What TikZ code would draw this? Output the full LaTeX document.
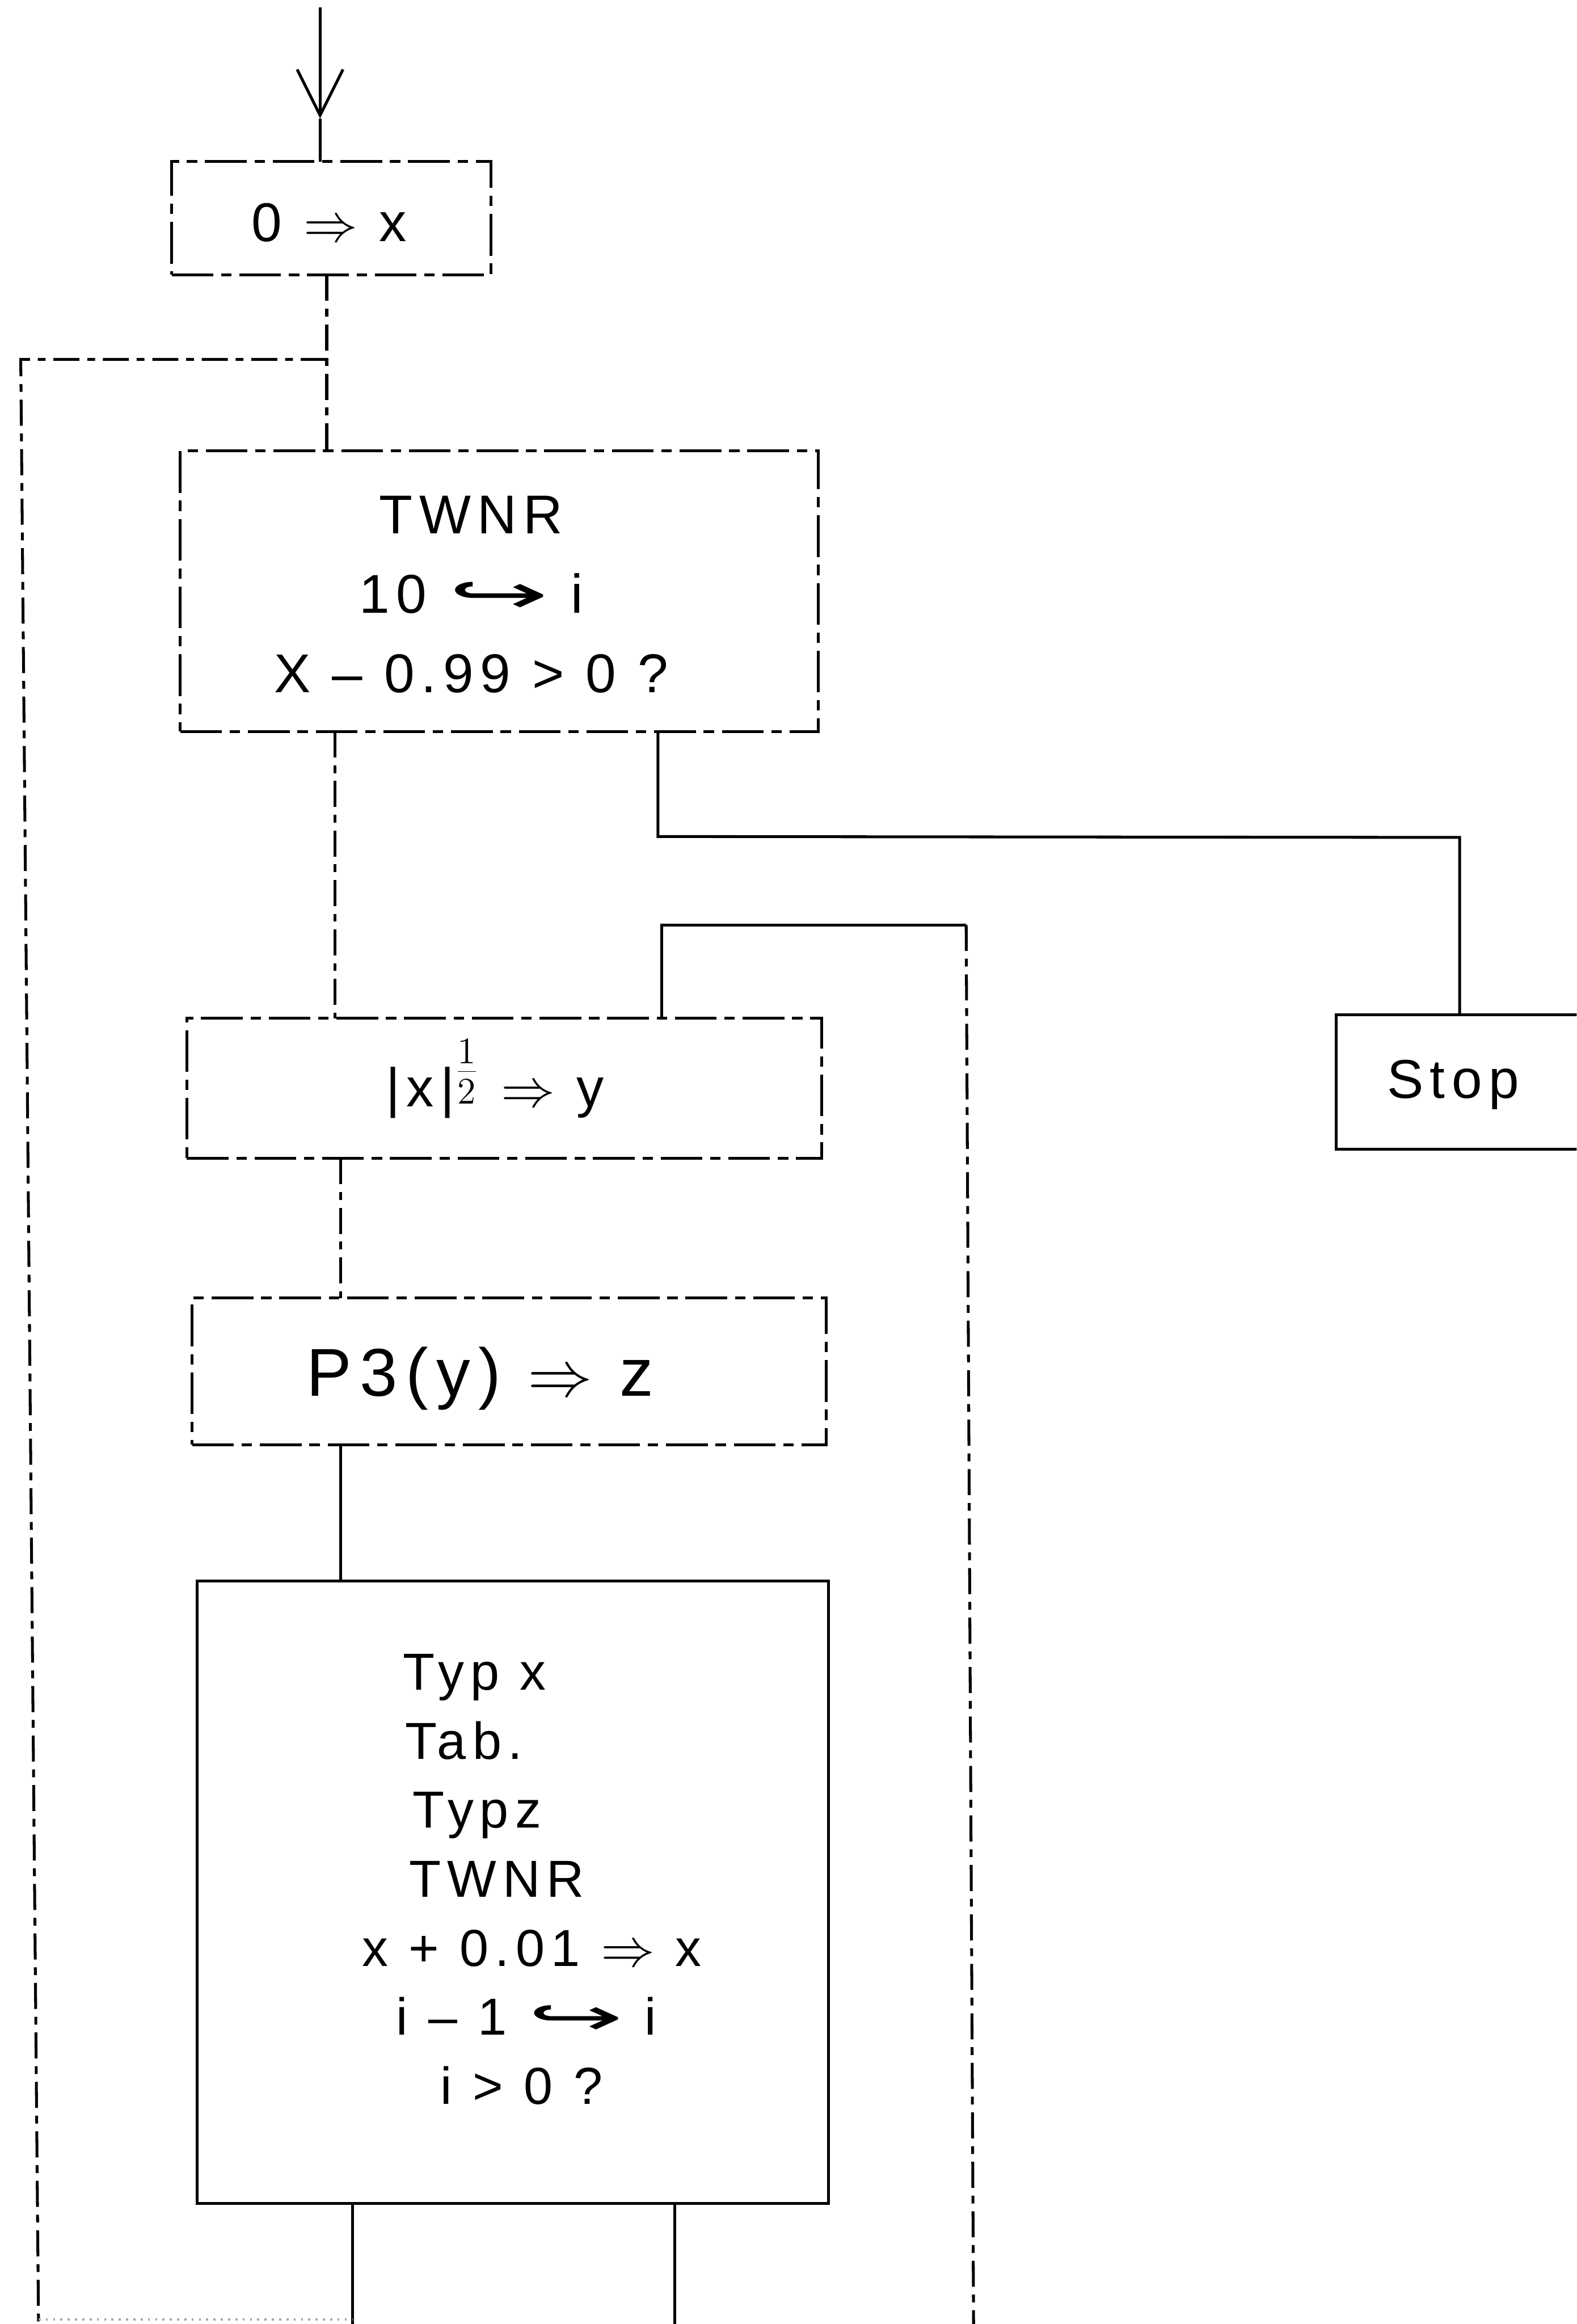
\documentclass[tikz,border=0pt]{standalone}
\usepackage{fontspec}
\setmainfont{Liberation Sans}[LetterSpace=12]
\newfontfamily\symfont{DejaVu Sans}
\usetikzlibrary{arrows.meta}
\newcommand\hookarr{\scalebox{2.2}[1]{\symfont ↪}}

\begin{document}
\begin{tikzpicture}[x=0.02cm,y=-0.02cm,
    box/.style={draw,line width=1.1pt,dash pattern=on 16pt off 3pt on 4pt off 3pt,
      inner sep=0pt,outer sep=0pt},
    plainbox/.style={draw,line width=1.1pt,inner sep=0pt,outer sep=0pt},
    txt/.style={align=center,font=\fontsize{21}{30.5}\selectfont},
    flow/.style={line width=1.1pt},
    dashflow/.style={line width=1.1pt,dash pattern=on 10pt off 3pt on 3pt off 3pt}]
  \useasboundingbox (0,0) rectangle (1064,1568);
  \clip (0,0) rectangle (1064,1568);

  % boxes
  \node[box,minimum width=4.31cm,minimum height=1.53cm] (start) at (223.6,147.2) {};
  \node[box,minimum width=8.61cm,minimum height=3.79cm] (twnr) at (336.9,398.8) {};
  \node[box,minimum width=8.57cm,minimum height=1.89cm] (root) at (340.3,734.3) {};
  \node[box,minimum width=8.56cm,minimum height=1.98cm] (poly) at (343.7,925.2) {};
  \node[plainbox,minimum width=8.52cm,minimum height=8.40cm] (loop) at (346,1276.6) {};
  \node[plainbox,minimum width=3.47cm,minimum height=1.82cm] (stop) at (988.3,730) {};

  % texts
  \node[txt] (start-t) at (222,150) {0 $\Rightarrow$ x};
  \node[txt] (twnr-t) at (318,401) {TWNR\\10 \hookarr{} i\\X – 0.99 > 0 ?};
  \node[txt] (root-t) at (334,728) {|x|\raisebox{0.4em}{$\frac{1}{2}$} $\Rightarrow$ y};
  \node[txt,font=\fontsize{26}{30}\selectfont] (poly-t) at (324,930) {P3(y) $\Rightarrow$ z};
  \node[txt,align=left,anchor=west,inner sep=0pt,font=\fontsize{20}{26.5}\selectfont]
    (loop-t) at (244,1268)
    {\hspace*{0.55cm}Typ x\\\hspace*{0.58cm}Tab.\\\hspace*{0.68cm}Typz\\
     \hspace*{0.64cm}TWNR\\x + 0.01 $\Rightarrow$ x\\\hspace*{0.46cm}i – 1 \hookarr{} i\\
     \hspace*{1.06cm}i > 0 ?};
  \node[txt] (stop-t) at (980.6,732) {Stop};

  % help points
  \coordinate (in) at (216,5);
  \coordinate (tip) at (216,80);
  \coordinate (j1) at (220.5,242.5);
  \coordinate (lt) at (14,242.5);
  \coordinate (lb) at (26,1568);
  \coordinate (c1) at (226,0);
  \coordinate (c2) at (444,564.4);
  \coordinate (c3) at (985,565);
  \coordinate (r1) at (446.5,624);
  \coordinate (r2) at (652,624);
  \coordinate (rb) at (657,1568);
  \coordinate (c4) at (230,0);
  \coordinate (o1) at (238,1568);
  \coordinate (o2) at (455.3,1568);

  % connectors
  \draw[flow,-{Straight Barb[length=0.62cm,width=0.62cm]}] (in) -- (tip);
  \draw[flow] (tip) -- (tip |- start.north);
  \draw[dashflow] (start.south -| j1) -- (twnr.north -| j1);
  \draw[dashflow] (j1) -- (lt) -- (lb);
  \draw[dashflow] (twnr.south -| c1) -- (root.north -| c1);
  \draw[flow] (twnr.south -| c2) -- (c2) -- (c3) -- (stop.north -| c3);
  \draw[flow] (root.north -| r1) -- (r1) -- (r2);
  \draw[dashflow] (r2) -- (rb);
  \draw[dashflow] (root.south -| c4) -- (poly.north -| c4);
  \draw[flow] (poly.south -| c4) -- (loop.north -| c4);
  \draw[flow] (loop.south -| o1) -- (o1);
  \draw[flow] (loop.south -| o2) -- (o2);
  \draw[black!35,line width=0.8pt,dotted] (26,1565) -- (o1 |- 0,1565);
\end{tikzpicture}
\end{document}
